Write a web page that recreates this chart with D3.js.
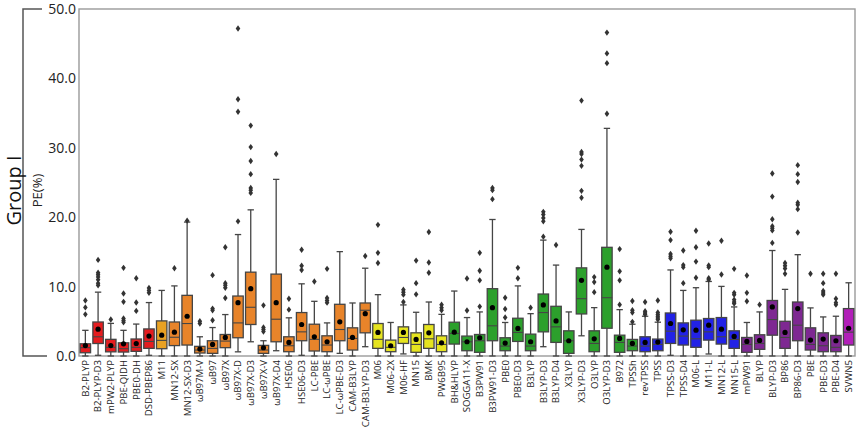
<!DOCTYPE html>
<html>
<head>
<meta charset="utf-8">
<script src="https://cdn.jsdelivr.net/npm/d3@7/dist/d3.min.js"></script>
<style>
  html, body { margin: 0; padding: 0; background: #fff; }
  svg { display: block; }
  text { font-family: "Open Sans", "DejaVu Sans", sans-serif; }
</style>
</head>
<body>
<div id="chart"></div>
<script>
// ---------------- data ----------------
const categories = ["B2-PLYP","B2-PLYP-D3","mPW2-PLYP","PBE-QIDH","PBE0-DH","DSD-PBEP86","M11","MN12-SX","MN12-SX-D3",
  "ωB97M-V","ωB97","ωB97X","ωB97X-D","ωB97X-D3","ωB97X-V","ωB97X-D4","HSE06","HSE06-D3","LC-PBE","LC-ωPBE",
  "LC-ωPBE-D3","CAM-B3LYP","CAM-B3LYP-D3","M06","M06-2X","M06-HF","MN15","BMK","PW6B95","BH&HLYP","SOGGA11-X",
  "B3PW91","B3PW91-D3","PBE0","PBE0-D3","B3LYP","B3LYP-D3","B3LYP-D4","X3LYP","X3LYP-D3","O3LYP","O3LYP-D3",
  "B972","TPSSh","revTPSS","TPSS","TPSS-D3","TPSS-D4","M06-L","M11-L","MN12-L","MN15-L","mPW91","BLYP","BLYP-D3",
  "BP86","BP86-D3","PBE","PBE-D3","PBE-D4","SVWN5"];

const groups = ["dh","dh","dh","dh","dh","dh","m11","hyb","hyb",
  "hyb","hyb","hyb","hyb","hyb","hyb","hyb","hyb","hyb","hyb","hyb",
  "hyb","hyb","hyb","mgga","mgga","mgga","mgga","mgga","mgga","ghyb","ghyb",
  "ghyb","ghyb","ghyb","ghyb","ghyb","ghyb","ghyb","ghyb","ghyb","ghyb","ghyb",
  "ghyb","ghyb","mg","mg","mg","mg","mg","mg","mg","mg","gga","gga","gga",
  "gga","gga","gga","gga","gga","lda"];

const whiskerLow = [0,0.1,0,0,0,0.1,0,0,0,
  0,0,0,0.6,2.05,0,0.76,0,0.1,0,0,
  0.38,0,1.34,0,0,0.3,0,0,0,0,0,
  0,0,0,0,0,1.34,0,0,2.91,0,0,
  0,0,0,0,0.1,0,0,0.29,0,0,0,0,0,
  0,0,0,0,0,0];
const q1 = [0.47,1.8,0.6,0.57,0.67,1.1,1.05,1.5,1.58,
  0.43,0.38,1.2,2.63,4.54,0.38,2.05,0.62,2.2,0.72,0.62,
  2.2,0.86,3.34,1.1,0.62,1.81,0.53,1.1,0.62,1.72,0.76,
  0.53,2.2,0.76,2.1,0.76,3.48,1.96,0.38,6.06,0.62,4.0,
  0.53,0.76,0.62,0.76,1.81,1.58,1.25,2.29,1.72,1.1,0.53,0.96,3.0,
  1.1,2.2,0.86,0.62,0.62,1.58];
const medians = [1.2,2.77,1.25,1.05,1.25,2.1,2.25,2.7,4.68,
  0.86,1.1,2.15,4.77,7.02,0.86,5.3,1.48,3.48,2.4,1.58,
  3.82,2.53,6.59,2.4,1.25,2.67,1.67,2.48,1.67,3.25,2.05,
  2.2,4.35,1.43,3.4,1.43,6.26,4.2,2.2,8.26,1.81,8.4,
  1.96,1.43,1.43,1.67,3.58,2.87,2.48,3.48,2.77,2.39,1.67,1.81,5.25,
  2.67,4.44,1.67,1.48,1.25,3.44];
const q3 = [1.76,4.9,2.4,1.9,2.45,3.9,5.06,4.9,8.74,
  1.39,2.2,3.1,8.64,12.08,1.53,11.8,2.77,6.26,4.58,2.91,
  7.45,4.06,7.64,4.68,2.29,4.2,3.34,4.54,2.91,4.87,2.87,
  3.1,9.7,2.63,5.44,3.15,8.93,7.16,3.63,12.7,3.63,15.66,
  3.0,2.39,2.77,2.44,6.2,4.77,5.16,5.4,5.54,3.63,2.67,3.06,8.0,
  5.0,7.78,4.06,3.34,2.96,6.83];
const whiskerHigh = [3.7,9.2,4.7,3.7,4.6,7.7,9.45,10.1,19.3,
  2.77,4.1,5.97,17.5,21.06,2.2,25.45,5.5,10.4,7.88,4.77,
  15.04,7.64,12.65,8.84,4.83,7.36,6.3,7.78,6.0,9.36,5.54,
  6.35,19.67,4.83,10.1,6.1,16.7,13.1,6.35,18.24,6.97,32.8,
  6.68,4.58,5.73,4.87,12.4,9.45,9.84,10.74,10.03,7.07,4.83,6.35,15.2,
  9.6,14.6,6.93,5.63,5.73,10.55];
const means = [1.5,3.87,1.5,1.76,1.8,2.87,3.0,3.44,5.73,
  1.0,1.67,2.67,7.69,9.7,1.19,7.69,1.96,4.54,2.77,2.05,
  4.92,2.67,6.1,3.4,1.48,3.4,2.39,3.34,1.9,3.44,2.05,
  2.63,6.97,1.86,3.97,2.05,7.36,5.06,2.2,10.9,2.48,12.8,
  2.53,1.81,1.96,2.0,4.68,3.77,3.72,4.44,3.87,2.82,2.1,2.25,7.07,
  3.39,6.83,2.29,2.44,2.2,4.0];
const outliers = [
  [8.0,7.0,6.0],[13.85,12.0,11.7,11.4,11.0,10.5,10.2],[5.25],[12.7,9.0,7.8,5.4,5.1,4.85],[11.2,7.7,6.5],[9.8,9.45,9.1],
  [],[12.65],[19.5],
  [5.0,4.68],[11.65,6.83,6.6,5.16],[15.66,10.5,10.2,9.84,8.35],[47.2,37.0,35.2,19.4],[33.2,30.1,28.1,26.2,24.2,23.9,23.5],
  [7.3,4.1,3.82,3.53],[29.1],[8.26,6.68],[15.3,13.0,12.4],[10.74],[12.56,8.35,8.0,7.69],
  [],[],[14.4],[18.9,14.86,13.4],[],[9.55,9.2,8.84,7.78],[13.75,10.5,8.88],[17.86,13.47,12.0],[7.4,6.97,6.6],
  [],[11.17,6.55],[14.86,12.28,10.9,7.12],[24.2,23.9,22.6],[8.4,6.78,5.54],[12.7,11.2],[6.97],
  [20.77,20.39,19.9,19.4,17.2],[16.0],[],[36.8,29.4,29.1,28.3,27.4,23.8,22.8],[11.37,10.65,9.2],[46.6,43.6,42.2,34.9],
  [15.4,12.2,10.9,7.4],[7.92,6.59,6.26,4.92],[7.78,6.45,6.2,5.97],[8.0,6.26,5.97,5.73,5.49,5.25],
  [17.9,16.7,14.7,14.37,14.08],[15.2,13.1,12.8,10.5],[18.05,15.66,13.6,11.27],[16.2,13.04,12.8,11.2,11.0],
  [16.6,11.75],[12.56,9.1,8.84,8.12,7.78,7.55],[11.6,9.1,7.88],[7.4],[26.3,22.97,19.7,18.7,18.4,18.1,16.3],
  [13.4,13.0,12.6,11.85],[27.5,26.2,25.07,22.1,21.8,21.16,17.8],[11.85],[11.85,10.5,9.36,9.07,8.84],
  [11.85,8.26,7.69,7.4],[]
];
const yTicks = [0,10,20,30,40,50];
const groupLabel = "Group I";
const yLabel = "PE(%)";

// ---------------- styles ----------------
const colorMap = {
  dh: "#e51c1f", m11: "#e8a123", hyb: "#e8842a", mgga: "#e6e41f",
  ghyb: "#2ca02c", mg: "#2222e6", gga: "#7e2892", lda: "#b11fb8"
};

const W = 858, H = 429;
const margin = {left: 79, right: 3, top: 9, bottom: 73};

const svg = d3.select("#chart").append("svg").attr("width", W).attr("height", H);

const x = d3.scaleBand().domain(categories).range([margin.left, W - margin.right]).paddingInner(0).paddingOuter(0);
const y = d3.scaleLinear().domain([0, 50]).range([H - margin.bottom, margin.top]);

const boxW = x.bandwidth() * 0.82;
const capW = x.bandwidth() * 0.5;
const edge = "#454545";

// frame
svg.append("rect")
  .attr("x", margin.left).attr("y", margin.top)
  .attr("width", W - margin.right - margin.left).attr("height", y(0) - margin.top)
  .attr("fill", "none").attr("stroke", "#9a9a9a").attr("stroke-width", 1.4);

// y axis (labels only)
const yAxis = d3.axisLeft(y).tickValues(yTicks).tickFormat(d3.format(".1f")).tickSize(0).tickPadding(3);
const gy = svg.append("g").attr("transform", `translate(${margin.left},0)`).call(yAxis);
gy.select(".domain").remove();
gy.selectAll("text").attr("font-size", 14).attr("fill", "#222").attr("font-family", "'Open Sans', sans-serif");

// x axis labels
const xAxis = d3.axisBottom(x).tickSize(0).tickPadding(4);
const gx = svg.append("g").attr("transform", `translate(0,${y(0)})`).call(xAxis);
gx.select(".domain").remove();
gx.selectAll("text")
  .attr("font-size", 9.6).attr("fill", "#222")
  .attr("transform", "rotate(-90)")
  .attr("text-anchor", "end")
  .attr("x", -4).attr("y", 0).attr("dy", "0.35em");

// boxes
const data = categories.map((c, i) => ({
  c, g: groups[i], lo: whiskerLow[i], q1: q1[i], med: medians[i], q3: q3[i], hi: whiskerHigh[i], mean: means[i], out: outliers[i]
}));

const gb = svg.append("g");
const items = gb.selectAll("g.box").data(data).join("g").attr("class", "box")
  .attr("transform", d => `translate(${x(d.c) + x.bandwidth() / 2},0)`);

// whiskers
items.append("line").attr("x1", 0).attr("x2", 0).attr("y1", d => y(d.q3)).attr("y2", d => y(d.hi))
  .attr("stroke", edge).attr("stroke-width", 1.3);
items.append("line").attr("x1", 0).attr("x2", 0).attr("y1", d => y(d.q1)).attr("y2", d => y(d.lo))
  .attr("stroke", edge).attr("stroke-width", 1.3);
items.append("line").attr("x1", -capW / 2).attr("x2", capW / 2).attr("y1", d => y(d.hi)).attr("y2", d => y(d.hi))
  .attr("stroke", edge).attr("stroke-width", 1.3);
items.append("line").attr("x1", -capW / 2).attr("x2", capW / 2).attr("y1", d => y(d.lo)).attr("y2", d => y(d.lo))
  .attr("stroke", edge).attr("stroke-width", 1.3);

// box
items.append("rect")
  .attr("x", -boxW / 2).attr("width", boxW)
  .attr("y", d => y(d.q3)).attr("height", d => y(d.q1) - y(d.q3))
  .attr("fill", d => colorMap[d.g]).attr("stroke", edge).attr("stroke-width", 1.3);
// median
items.append("line").attr("x1", -boxW / 2).attr("x2", boxW / 2).attr("y1", d => y(d.med)).attr("y2", d => y(d.med))
  .attr("stroke", edge).attr("stroke-width", 1.1);
// mean
items.append("circle").attr("cx", 0).attr("cy", d => y(d.mean)).attr("r", 2.6).attr("fill", "#000");

// outliers (thin diamonds)
items.selectAll("path.out").data(d => d.out).join("path").attr("class", "out")
  .attr("d", "M0,-3.2L2.3,0L0,3.2L-2.3,0Z")
  .attr("transform", v => `translate(0,${y(v)})`)
  .attr("fill", "#333");

// y label
svg.append("text").attr("transform", `translate(42,${(y(0) + y(50)) / 2 + 8}) rotate(-90)`)
  .attr("text-anchor", "middle").attr("font-size", 13).attr("fill", "#222").text(yLabel);

// group bracket
svg.append("path")
  .attr("d", `M42,${y(50)}H23V${y(0)}H47`)
  .attr("fill", "none").attr("stroke", "#555").attr("stroke-width", 1.5);
svg.append("text").attr("transform", `translate(21,${(y(0) + y(50)) / 2 + 8}) rotate(-90)`)
  .attr("text-anchor", "middle").attr("font-size", 20).attr("fill", "#111").text(groupLabel);
</script>
</body>
</html>
